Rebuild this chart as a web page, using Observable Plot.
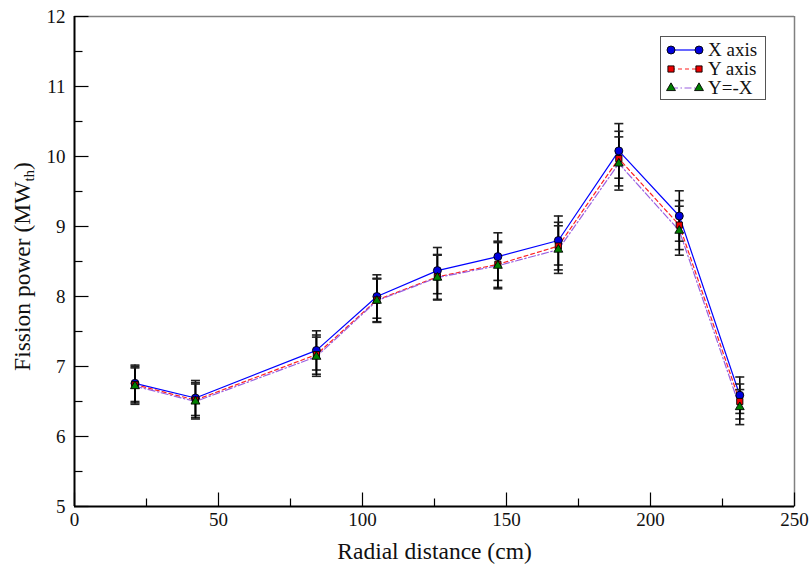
<!DOCTYPE html>
<html>
<head>
<meta charset="utf-8">
<script src="https://cdn.jsdelivr.net/npm/d3@7"></script>
<script src="https://cdn.jsdelivr.net/npm/@observablehq/plot@0.6"></script>
<style>
  html, body { margin: 0; padding: 0; background: #fff; }
  #wrap { position: relative; width: 811px; height: 564px; }
  #legend { position: absolute; left: 660px; top: 36px; width: 104px; height: 62px;
            border: 1.5px solid #555; background: #fff; }
  svg, svg text { font-family: "Liberation Serif", "Times New Roman", serif !important; }
</style>
</head>
<body>
<div id="wrap">
  <div id="chart"></div>
  <div id="legend"></div>
</div>
<script>
// ---- data ----
const radial = [21, 42, 84, 105, 126, 147, 168, 189, 210, 231];
const seriesNames = ["X axis", "Y axis", "Y=-X"];
const xAxisPower = [6.76, 6.55, 7.23, 8.00, 8.37, 8.57, 8.80, 10.08, 9.15, 6.59];
const yAxisPower = [6.74, 6.52, 7.17, 7.95, 8.28, 8.46, 8.72, 9.97, 9.02, 6.50];
const diagPower  = [6.72, 6.50, 7.14, 7.94, 8.27, 8.44, 8.67, 9.90, 8.94, 6.42];
const xAxisErr = [0.26, 0.25, 0.28, 0.31, 0.33, 0.34, 0.35, 0.39, 0.36, 0.26];
const yAxisErr = [0.26, 0.25, 0.28, 0.31, 0.32, 0.33, 0.34, 0.39, 0.35, 0.25];
const diagErr  = [0.26, 0.25, 0.28, 0.31, 0.32, 0.33, 0.34, 0.38, 0.35, 0.25];
const xTicks = [0, 50, 100, 150, 200, 250];
const xMinorTicks = [25, 75, 125, 175, 225];
const yTicks = [5, 6, 7, 8, 9, 10, 11, 12];
const yMinorTicks = [5.5, 6.5, 7.5, 8.5, 9.5, 10.5, 11.5];

const powers = [xAxisPower, yAxisPower, diagPower];
const errs = [xAxisErr, yAxisErr, diagErr];
const rows = [];
seriesNames.forEach((s, si) => radial.forEach((r, i) => rows.push({
  series: s, x: r, y: powers[si][i], lo: powers[si][i] - errs[si][i], hi: powers[si][i] + errs[si][i]
})));
const bySeries = s => rows.filter(d => d.series === s);

const capSym = { draw(ctx, size) { const h = Math.sqrt(size / Math.PI); ctx.moveTo(-h, 0); ctx.lineTo(h, 0); } };
const upSym = { draw(ctx, size) { const h = Math.sqrt(size / Math.PI); ctx.moveTo(0, 0); ctx.lineTo(0, -h); } };
const rightSym = { draw(ctx, size) { const h = Math.sqrt(size / Math.PI); ctx.moveTo(0, 0); ctx.lineTo(h, 0); } };

const FONT = "'Liberation Serif', 'Times New Roman', serif";
const styles = {
  "X axis": { stroke: "#0000ff", dash: null, fill: "#0000dd", symbol: "circle", r: 4 },
  "Y axis": { stroke: "#ff2020", dash: "4,3", fill: "#ee0000", symbol: "square", r: 3.5 },
  "Y=-X":   { stroke: "#9a60e0", dash: "7,2.5,1.5,2.5", fill: "#008000", symbol: "triangle", r: 3.3 }
};

const marks = [];
for (const s of seriesNames) {
  marks.push(Plot.line(bySeries(s), { x: "x", y: "y", stroke: styles[s].stroke, strokeWidth: 1.2, strokeDasharray: styles[s].dash }));
}
for (const s of seriesNames) {
  const d = bySeries(s);
  marks.push(Plot.ruleX(d, { x: "x", y1: "lo", y2: "hi", stroke: "#000", strokeWidth: 1.6 }));
  marks.push(Plot.dot(d, { x: "x", y: "lo", symbol: capSym, r: 4.5, stroke: "#222", strokeWidth: 1.6 }));
  marks.push(Plot.dot(d, { x: "x", y: "hi", symbol: capSym, r: 4.5, stroke: "#222", strokeWidth: 1.6 }));
}
for (const s of seriesNames) {
  marks.push(Plot.dot(bySeries(s), { x: "x", y: "y", symbol: styles[s].symbol, r: styles[s].r, fill: styles[s].fill, stroke: "#000", strokeWidth: 0.9 }));
}
marks.push(Plot.ruleX([250], { stroke: "#808080", strokeWidth: 1.5 }));
marks.push(Plot.ruleY([12], { stroke: "#808080", strokeWidth: 1.5 }));
marks.push(Plot.ruleX([0], { stroke: "#000", strokeWidth: 2 }));
marks.push(Plot.ruleY([5], { stroke: "#000", strokeWidth: 2 }));
marks.push(Plot.dot(xTicks, { x: d => d, y: () => 5, symbol: upSym, r: 14, stroke: "#000", strokeWidth: 1.2 }));
marks.push(Plot.dot(xMinorTicks, { x: d => d, y: () => 5, symbol: upSym, r: 8, stroke: "#000", strokeWidth: 1.2 }));
marks.push(Plot.dot(yTicks, { y: d => d, x: () => 0, symbol: rightSym, r: 14, stroke: "#000", strokeWidth: 1.2 }));
marks.push(Plot.dot(yMinorTicks, { y: d => d, x: () => 0, symbol: rightSym, r: 8, stroke: "#000", strokeWidth: 1.2 }));
marks.push(Plot.axisX(xTicks, { tickSize: 0, tickPadding: 6, label: null, fill: "#111", tickFormat: d => String(d), fontFamily: FONT }));
marks.push(Plot.axisY(yTicks, { tickSize: 0, tickPadding: 9, label: null, fill: "#111", tickFormat: d => String(d), fontFamily: FONT }));
marks.push(Plot.text(["Radial distance (cm)"], { frameAnchor: "bottom", dy: 45, lineAnchor: "middle", textAnchor: "middle", text: d => d, fontSize: 23.5, fill: "#111", fontFamily: FONT }));
marks.push(Plot.text(["Fission power (MWth)"], { frameAnchor: "left", dx: -52, dy: 5, rotate: -90, textAnchor: "middle", lineAnchor: "middle", text: d => d, fontSize: 23.5, fill: "#111", fontFamily: FONT }));

const chart = Plot.plot({
  width: 811, height: 564,
  marginLeft: 74, marginRight: 17, marginTop: 16, marginBottom: 58,
  x: { domain: [0, 250] },
  y: { domain: [5, 12] },
  style: { fontFamily: FONT, fontSize: "19px", background: "#fff", overflow: "visible" },
  marks
});
document.getElementById("chart").appendChild(chart);

d3.select(chart).selectAll("text").each(function () {
  if (this.textContent === "Fission power (MWth)") {
    const t = d3.select(this);
    t.text("Fission power (MW");
    t.append("tspan").attr("font-size", 15).attr("dy", 4).text("th");
    t.append("tspan").attr("dy", -4).text(")");
  }
});

const lg = d3.select("#legend").append("svg").attr("width", 104).attr("height", 62)
  .style("font-size", "19px");
seriesNames.forEach((s, i) => {
  const y = 13 + i * 19;
  const st = styles[s];
  lg.append("line").attr("x1", 10).attr("x2", 38).attr("y1", y).attr("y2", y)
    .attr("stroke", st.stroke).attr("stroke-width", 1.2).attr("stroke-dasharray", st.dash);
  const sym = d3.symbol().type(st.symbol === "circle" ? d3.symbolCircle : st.symbol === "square" ? d3.symbolSquare : d3.symbolTriangle)
    .size(st.r * st.r * Math.PI);
  [10, 38].forEach(x => lg.append("path").attr("d", sym()).attr("transform", `translate(${x},${y})`)
    .attr("fill", st.fill).attr("stroke", "#000").attr("stroke-width", 0.9));
  lg.append("text").attr("x", 47).attr("y", y + 6).attr("fill", "#111").text(s);
});
</script>
</body>
</html>
